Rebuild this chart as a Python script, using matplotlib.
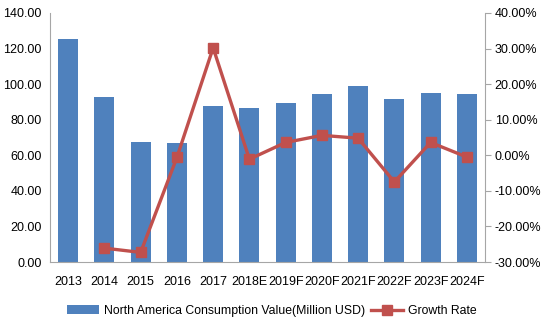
import matplotlib
matplotlib.use('Agg')
import matplotlib.pyplot as plt
import matplotlib.ticker as ticker
import numpy as np

plt.rcParams['font.family'] = ['Liberation Sans', 'DejaVu Sans']

# 北美消费额及增长率
years = ['2013', '2014', '2015', '2016', '2017', '2018E', '2019F',
         '2020F', '2021F', '2022F', '2023F', '2024F']
consumption = [125.5, 92.8, 67.5, 67.0, 87.7, 86.6, 89.5, 94.4, 99.0, 91.6, 95.0, 94.4]
growth = [None, -26.1, -27.3, -0.6, 30.2, -1.1, 3.6, 5.6, 4.8, -7.5, 3.6, -0.5]

bar_color = '#4F81BD'
line_color = '#C0504D'
axis_color = '#A6A6A6'

fig = plt.figure(figsize=(5.44, 3.29), dpi=100)
ax1 = fig.add_axes([0.092, 0.2036, 0.7995, 0.757])
ax2 = ax1.twinx()

x = np.arange(len(years))
bars = ax1.bar(x, consumption, width=0.55, color=bar_color, zorder=2,
               label='North America Consumption Value(Million USD)')

gx = [i for i, g in enumerate(growth) if g is not None]
gy = [g for g in growth if g is not None]
line, = ax2.plot(gx, gy, color=line_color, linewidth=2.4, marker='s',
                 markersize=6.5, zorder=3, label='Growth Rate')

ax1.set_xlim(-0.5, len(years) - 0.5)
ax1.set_ylim(0, 140)
ax1.yaxis.set_major_locator(ticker.MultipleLocator(20))
ax1.yaxis.set_major_formatter(ticker.StrMethodFormatter('{x:.2f}'))
ax2.set_ylim(-30, 40)
ax2.yaxis.set_major_locator(ticker.MultipleLocator(10))
ax2.yaxis.set_major_formatter(ticker.FuncFormatter(lambda v, p: f'{v:.2f}%'))

ax1.set_xticks(x)
ax1.set_xticklabels(years)

for ax in (ax1, ax2):
    ax.spines['top'].set_visible(False)
    for s in ('left', 'right', 'bottom'):
        ax.spines[s].set_color(axis_color)
    ax.tick_params(labelsize=9, colors='black')
ax1.spines['right'].set_visible(False)
ax2.spines['left'].set_visible(False)
ax2.spines['bottom'].set_visible(False)
ax1.tick_params(axis='y', length=0, pad=6)
ax1.tick_params(axis='x', length=0, pad=10)
ax2.tick_params(axis='y', length=4, color=axis_color, direction='out', pad=3)

fig.legend([bars, line], [bars.get_label(), line.get_label()],
           loc='center', bbox_to_anchor=(0.5, 0.055), ncol=2, frameon=False,
           fontsize=8.8, handlelength=2.6, columnspacing=0.5, handletextpad=0.4)

fig.savefig('out.png', dpi=100)
